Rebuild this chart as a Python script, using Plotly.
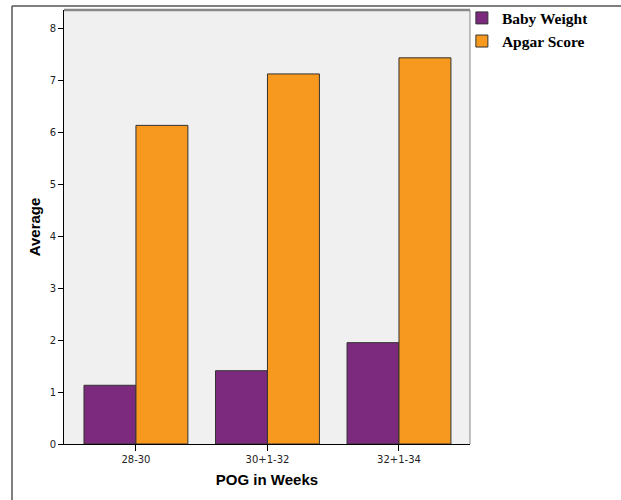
import plotly.graph_objects as go

categories = ["28-30", "30+1-32", "32+1-34"]
baby_weight = [1.13, 1.41, 1.95]
apgar_score = [6.13, 7.12, 7.43]
y_ticks = [0, 1, 2, 3, 4, 5, 6, 7, 8]

fig = go.Figure()
fig.add_trace(go.Bar(name="Baby Weight", x=categories, y=baby_weight,
                     marker=dict(color="#7b2a7d", line=dict(color="#333333", width=1))))
fig.add_trace(go.Bar(name="Apgar Score", x=categories, y=apgar_score,
                     marker=dict(color="#f7991f", line=dict(color="#333333", width=1))))

fig.update_layout(
    width=621, height=500,
    margin=dict(l=64, r=151, t=10, b=56, autoexpand=False),
    paper_bgcolor="white",
    plot_bgcolor="#f0f0f0",
    barmode="group",
    bargap=0.21,
    bargroupgap=0,
    showlegend=True,
    legend=dict(x=0.98, y=1.02, xanchor="left", yanchor="top",
                font=dict(family="Liberation Serif", size=15.5, color="black", weight="bold"),
                bgcolor="rgba(0,0,0,0)", itemwidth=30, tracegroupgap=0),
    font=dict(family="Liberation Sans", color="black"),
)
fig.update_xaxes(
    range=[-0.547, 2.54],
    showline=True, linecolor="black", linewidth=1,
    ticks="outside", ticklen=6, tickcolor="black",
    tickfont=dict(family="DejaVu Sans", size=10, color="#222"),
    title=dict(text="<b>POG in Weeks</b>", font=dict(family="Liberation Sans", size=15), standoff=10),
)
fig.update_yaxes(
    range=[0, 8.35], tickvals=y_ticks,
    showline=True, linecolor="black", linewidth=1,
    ticks="outside", ticklen=5, tickcolor="black",
    showgrid=False, zeroline=False,
    tickfont=dict(family="DejaVu Sans", size=10, color="#222"),
    title=dict(text="<b>Average</b>", font=dict(family="Liberation Sans", size=15), standoff=5),
)
# plot-area top and right borders
fig.add_shape(type="line", xref="paper", yref="paper", x0=0, x1=1, y0=1, y1=1,
              line=dict(color="#888888", width=2.5))
fig.add_shape(type="line", xref="paper", yref="paper", x0=1, x1=1, y0=0, y1=1,
              line=dict(color="#888888", width=1))
# outer frame lines
fig.add_shape(type="line", xref="paper", yref="paper",
              x0=(12 - 64) / 406, x1=(621 - 64) / 406, y0=(444 - 6) / 434, y1=(444 - 6) / 434,
              line=dict(color="#555555", width=1.5))
fig.add_shape(type="line", xref="paper", yref="paper",
              x0=(12 - 64) / 406, x1=(12 - 64) / 406, y0=(444 - 6) / 434, y1=(444 - 500) / 434,
              line=dict(color="#555555", width=1.5))

fig.write_html("out.html", config={"displayModeBar": False},
               post_script="document.body.style.margin='0';")
